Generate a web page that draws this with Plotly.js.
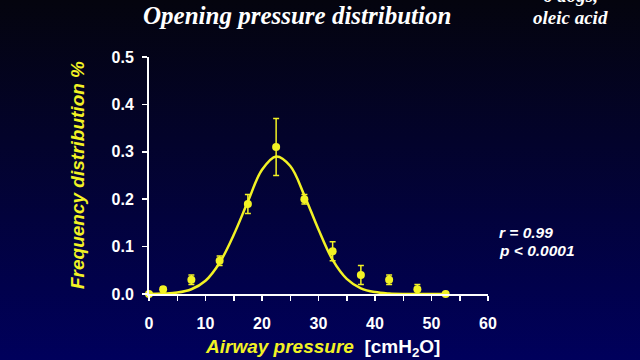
<!DOCTYPE html>
<html>
<head>
<meta charset="utf-8">
<script src="https://cdn.plot.ly/plotly-3.0.1.min.js"></script>
<style>
html,body{margin:0;padding:0;width:640px;height:360px;overflow:hidden;
background:linear-gradient(to bottom,#04040e 0%,#03032c 40%,#00005c 100%);}
#chart{width:640px;height:360px;}
</style>
</head>
<body>
<div id="chart"></div>
<script>
// Measured points
const pressure = [0, 2.5, 7.5, 12.5, 17.5, 22.5, 27.5, 32.5, 37.5, 42.5, 47.5, 52.5];
const frequency = [0, 0.01, 0.03, 0.07, 0.19, 0.31, 0.20, 0.09, 0.04, 0.03, 0.01, 0];
const errorBars = [0, 0.005, 0.01, 0.01, 0.02, 0.06, 0.01, 0.02, 0.02, 0.01, 0.01, 0];
// Fitted curve
const fitX = [0, 2.5, 5, 7.5, 10, 12.5, 15, 17.5, 20, 22.5, 25, 27.5, 30, 32.5, 35, 37.5, 40, 42.5, 45, 47.5, 50, 52.5];
const fitY = [0, 0.001, 0.003, 0.010, 0.028, 0.066, 0.125, 0.195, 0.262, 0.290, 0.270, 0.208, 0.136, 0.072, 0.032, 0.012, 0.004, 0.001, 0, 0, 0, 0];
const xTicks = [0, 10, 20, 30, 40, 50, 60];
const yTicks = [0, 0.1, 0.2, 0.3, 0.4, 0.5];
const yTickText = ['0.0', '0.1', '0.2', '0.3', '0.4', '0.5'];

const yellow = '#f2f224';
const traces = [
  {x: fitX, y: fitY, type: 'scatter', mode: 'lines', line: {color: yellow, width: 2.5, shape: 'spline'}, cliponaxis: false, hoverinfo: 'skip'},
  {x: pressure, y: frequency, type: 'scatter', mode: 'markers',
   marker: {color: yellow, size: 8},
   error_y: {type: 'data', array: errorBars, visible: true, color: yellow, thickness: 1.5, width: 3},
   cliponaxis: false}
];
const fontTick = {family: 'Liberation Sans, Arial, sans-serif', size: 16, color: '#ffffff', weight: 'bold'};
const layout = {
  width: 640, height: 360,
  paper_bgcolor: 'rgba(0,0,0,0)', plot_bgcolor: 'rgba(0,0,0,0)',
  margin: {l: 149, r: 152, t: 57, b: 66},
  showlegend: false,
  xaxis: {range: [0, 60], tickvals: xTicks, ticks: 'outside', ticklen: 5, tickwidth: 1.5, tickcolor: '#ffffff',
    ticklabelstandoff: 9,
    minor: {dtick: 5, tick0: 0, ticks: 'outside', ticklen: 5, tickwidth: 1.5, tickcolor: '#ffffff', showgrid: false},
    showline: true, linecolor: '#ffffff', linewidth: 2, showgrid: false, zeroline: false,
    tickfont: fontTick, fixedrange: true},
  yaxis: {range: [0, 0.5], tickvals: yTicks, ticktext: yTickText, ticks: 'outside', ticklen: 5, tickwidth: 1.5, tickcolor: '#ffffff',
    ticklabelstandoff: 5,
    showline: true, linecolor: '#ffffff', linewidth: 2, showgrid: false, zeroline: false,
    tickfont: fontTick, fixedrange: true},
  annotations: [
    {text: '<b><i>Opening pressure distribution</i></b>', xref: 'paper', yref: 'paper', x: (297-149)/339, y: (294-16)/237, yanchor: 'middle', xanchor: 'center', showarrow: false,
     font: {family: 'Liberation Serif, Times New Roman, serif', size: 25, color: '#ffffff'}},
    {text: '<b><i>6 dogs,</i></b>', xref: 'paper', yref: 'paper', x: (570-149)/339, y: (294+5)/237, yanchor: 'middle', xanchor: 'center', showarrow: false,
     font: {family: 'Liberation Serif, Times New Roman, serif', size: 19, color: '#ffffff'}},
    {text: '<b><i>oleic acid</i></b>', xref: 'paper', yref: 'paper', x: (570-149)/339, y: (294-17)/237, yanchor: 'middle', xanchor: 'center', showarrow: false,
     font: {family: 'Liberation Serif, Times New Roman, serif', size: 19, color: '#ffffff'}},
    {text: '<b><i>r = 0.99</i></b>', xref: 'paper', yref: 'paper', x: (497-149)/339, y: (294-232)/237, yanchor: 'middle', xanchor: 'left', showarrow: false,
     font: {family: 'Liberation Sans, Arial, sans-serif', size: 15.5, color: '#ffffff'}},
    {text: '<b><i>p < 0.0001</i></b>', xref: 'paper', yref: 'paper', x: (497-149)/339, y: (294-250)/237, yanchor: 'middle', xanchor: 'left', showarrow: false,
     font: {family: 'Liberation Sans, Arial, sans-serif', size: 15.5, color: '#ffffff'}},
    {text: '<b><i><span style="color:' + yellow + '">Airway pressure</span></i>  [cmH<sub>2</sub>O]</b>', xref: 'paper', yref: 'paper', x: (322-149)/339, y: (294-348)/237, yanchor: 'middle', xanchor: 'center', showarrow: false,
     font: {family: 'Liberation Sans, Arial, sans-serif', size: 19, color: '#ffffff'}},
    {text: '<b><i>Frequency distribution %</i></b>', xref: 'paper', yref: 'paper', x: (77-149)/339, y: (294-175)/237, yanchor: 'middle', xanchor: 'center', showarrow: false, textangle: -90,
     font: {family: 'Liberation Sans, Arial, sans-serif', size: 19, color: yellow}}
  ]
};
Plotly.newPlot('chart', traces, layout, {displayModeBar: false, staticPlot: true});
</script>
</body>
</html>
